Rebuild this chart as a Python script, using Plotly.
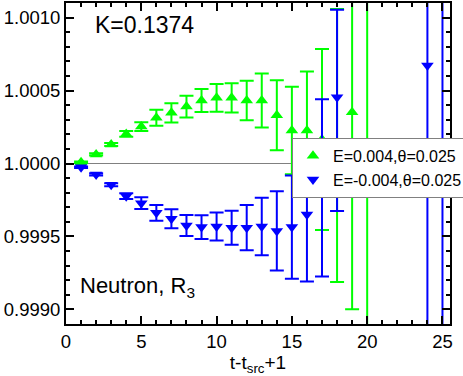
import plotly.graph_objects as go

# E=0.004 (up triangles, green)
t_pos = [1, 2, 3, 4, 5, 6, 7, 8, 9, 10, 11, 12, 13, 14, 15, 16, 17, 18, 19, 20]
r_pos = [1.000009, 1.000062, 1.000130, 1.000203, 1.000253, 1.000313, 1.000347,
         1.000390, 1.000432, 1.000450, 1.000450, 1.000432, 1.000432, 1.000331,
         1.000226, 1.000226, 1.000164, 1.000123, 1.000351, 1.000020]
e_pos = [0.000005, 0.000008, 0.000010, 0.000020, 0.000030, 0.000055, 0.000066,
         0.000074, 0.000079, 0.000095, 0.000100, 0.000135, 0.000185, 0.000240,
         0.000300, 0.000404, 0.000620, 0.000936, 0.001350, 0.002000]

# E=-0.004 (down triangles, blue)
t_neg = [1, 2, 3, 4, 5, 6, 7, 8, 9, 10, 11, 12, 13, 14, 15, 16, 17, 18, 24, 25]
r_neg = [0.999975, 0.999925, 0.999854, 0.999776, 0.999728, 0.999662, 0.999621,
         0.999575, 0.999564, 0.999568, 0.999560, 0.999560, 0.999568, 0.999538,
         0.999564, 0.999651, 0.999833, 1.000454, 1.000671, 1.000020]
e_neg_up = [0.000005, 0.000008, 0.000010, 0.000020, 0.000040, 0.000054, 0.000065,
            0.000072, 0.000082, 0.000096, 0.000116, 0.000155, 0.000197, 0.000272,
            0.000354, 0.000460, 0.000607, 0.000600, 0.002500, 0.003000]
e_neg_dn = [0.000005, 0.000008, 0.000010, 0.000020, 0.000040, 0.000054, 0.000065,
            0.000072, 0.000082, 0.000096, 0.000116, 0.000155, 0.000197, 0.000272,
            0.000354, 0.000460, 0.000607, 0.000780, 0.002500, 0.003000]

font = "Liberation Sans, Arial, sans-serif"

fig = go.Figure()

fig.add_trace(go.Scatter(
    x=t_pos, y=r_pos, mode="markers", name="E=0.004,θ=0.025",
    marker=dict(symbol="triangle-up", size=11, color="#00ff00"),
    error_y=dict(type="data", array=e_pos, color="#00ff00", thickness=2, width=7),
))
fig.add_trace(go.Scatter(
    x=t_neg, y=r_neg, mode="markers", name="E=-0.004,θ=0.025",
    marker=dict(symbol="triangle-down", size=11, color="#0000ff"),
    error_y=dict(type="data", array=e_neg_up, arrayminus=e_neg_dn,
                 color="#0000ff", thickness=2, width=7),
))

# reference line at 1
fig.add_shape(type="line", xref="x", yref="y", x0=0, x1=25.5, y0=1.0, y1=1.0,
              line=dict(color="#808080", width=1), layer="below")

fig.add_annotation(text="K=0.1374", xref="paper", yref="paper", x=0.07, y=0.93,
                   xanchor="left", yanchor="middle", showarrow=False,
                   font=dict(size=23, color="black", family=font))
fig.add_annotation(text="Neutron, R<sub>3</sub>", xref="paper", yref="paper",
                   x=0.03, y=0.115, xanchor="left", yanchor="middle", showarrow=False,
                   font=dict(size=22, color="black", family=font))

axis_common = dict(
    showgrid=False, zeroline=False, showline=True, linecolor="black", linewidth=2,
    mirror="ticks", ticks="inside", ticklen=8, tickwidth=1.5, tickcolor="black",
    tickfont=dict(size=18.5, color="black", family=font),
)

fig.update_xaxes(
    range=[0, 25.5], tickvals=[0, 5, 10, 15, 20, 25],
    minor=dict(dtick=1, ticks="inside", ticklen=4, tickcolor="black", tickwidth=1.5),
    title=dict(text="t-t<sub>src</sub>+1", standoff=4,
               font=dict(size=19, color="black", family=font)),
    **axis_common,
)
fig.update_yaxes(
    range=[0.9989, 1.0011], tickvals=[0.999, 0.9995, 1.0, 1.0005, 1.001],
    tickformat=".4f",
    minor=dict(dtick=0.0001, ticks="inside", ticklen=4, tickcolor="black", tickwidth=1.5),
    **axis_common,
)

fig.update_layout(
    width=463, height=376,
    margin=dict(l=66, r=13, t=3, b=52, autoexpand=False),
    plot_bgcolor="white", paper_bgcolor="white",
    font=dict(family=font, color="black"),
    showlegend=True,
    legend=dict(x=0.5885, y=0.58, xanchor="left", yanchor="top",
                bgcolor="white", bordercolor="#808080", borderwidth=1,
                font=dict(size=16, color="black", family=font),
                tracegroupgap=0, itemwidth=30),
)

# drop the default page margin so the figure sits at the window's corner
fig.write_html("out.html", config={"displayModeBar": False},
               post_script="document.body.style.margin='0';")
